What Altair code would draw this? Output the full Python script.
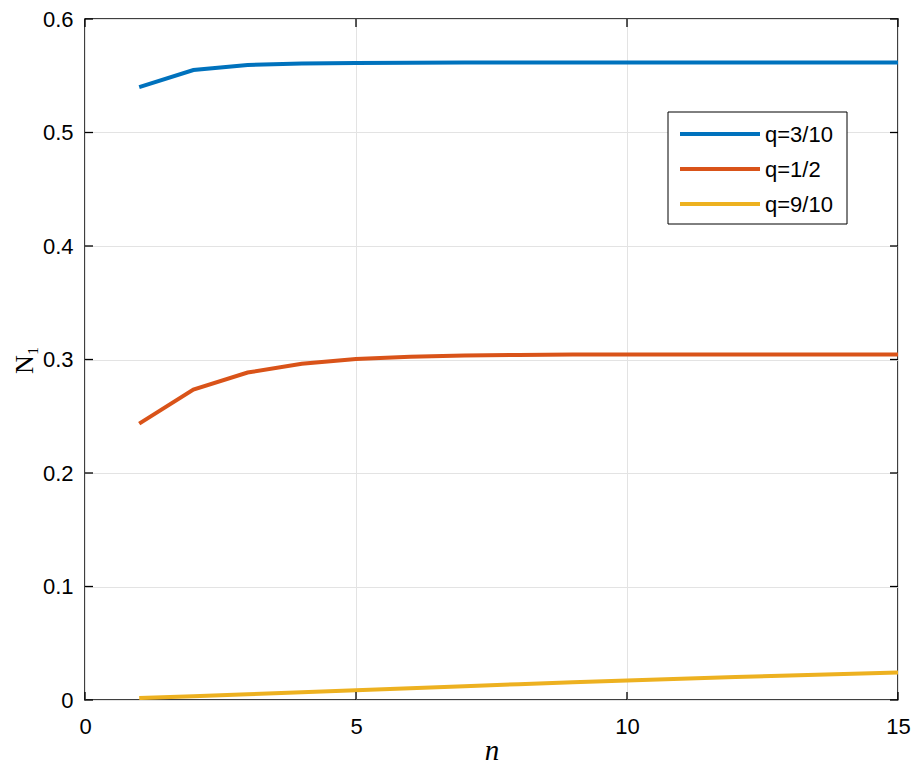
import altair as alt
import pandas as pd

n_vals = list(range(1, 16))
q3_10 = [0.540, 0.555, 0.5595, 0.5608, 0.5613, 0.5615, 0.5616, 0.5617, 0.5617, 0.5617, 0.5617, 0.5617, 0.5617, 0.5617, 0.5617]
q1_2 = [0.2435, 0.2735, 0.2885, 0.2962, 0.3005, 0.3025, 0.3035, 0.3040, 0.3043, 0.3044, 0.3044, 0.3044, 0.3044, 0.3044, 0.3044]
q9_10 = [0.0017, 0.0033, 0.0050, 0.0068, 0.0086, 0.0104, 0.0122, 0.0139, 0.0156, 0.0172, 0.0187, 0.0202, 0.0216, 0.0230, 0.0243]
series_names = ["q=3/10", "q=1/2", "q=9/10"]
series_colors = ["#0072BD", "#D95319", "#EDB120"]
x_ticks = [0, 5, 10, 15]
y_ticks = [0, 0.1, 0.2, 0.3, 0.4, 0.5, 0.6]

rows = []
for name, vals in zip(series_names, [q3_10, q1_2, q9_10]):
    for n, v in zip(n_vals, vals):
        rows.append({"n": n, "N1": v, "q": name})
df = pd.DataFrame(rows)

W, H = 813, 681
TL = 8

xsc = alt.Scale(domain=[0, 15], nice=False, zero=False)
ysc = alt.Scale(domain=[0, 0.6], nice=False, zero=False)

xaxis = alt.Axis(values=x_ticks, title="n", grid=True, ticks=False, domain=False,
                 labelFont="Liberation Sans", labelFontSize=22, labelColor="#000000",
                 labelPadding=16, labelFlush=False,
                 titleFont="Liberation Serif", titleFontStyle="italic", titleFontWeight="normal",
                 titleFontSize=29, titleColor="#000000", titleBaseline="alphabetic", titleY=59)
yaxis = alt.Axis(values=y_ticks, title="N₁", grid=True, ticks=False, domain=False,
                 format=".1~f", labelFont="Liberation Sans", labelFontSize=22, labelColor="#000000",
                 labelPadding=12, labelFlush=False,
                 titleFont="Liberation Serif", titleFontWeight="normal", titleFontSize=26,
                 titleColor="#000000", titleBaseline="alphabetic", titleX=-53)

lines = alt.Chart(df).mark_line(strokeWidth=4, strokeCap="butt", clip=True).encode(
    x=alt.X("n:Q", scale=xsc, axis=xaxis),
    y=alt.Y("N1:Q", scale=ysc, axis=yaxis),
    color=alt.Color("q:N", scale=alt.Scale(domain=series_names, range=series_colors),
                    sort=series_names, legend=None),
    detail="q:N",
)

xt = pd.DataFrame({"v": x_ticks})
yt = pd.DataFrame({"v": y_ticks})
tick_color = "#000000"
xb = alt.Chart(xt).mark_rule(color=tick_color, strokeWidth=1.3).encode(
    x=alt.X("v:Q", scale=xsc), y=alt.value(H), y2=alt.value(H - TL))
xtop = alt.Chart(xt).mark_rule(color=tick_color, strokeWidth=1.3).encode(
    x=alt.X("v:Q", scale=xsc), y=alt.value(0), y2=alt.value(TL))
yl = alt.Chart(yt).mark_rule(color=tick_color, strokeWidth=1.3).encode(
    y=alt.Y("v:Q", scale=ysc), x=alt.value(0), x2=alt.value(TL))
yr = alt.Chart(yt).mark_rule(color=tick_color, strokeWidth=1.3).encode(
    y=alt.Y("v:Q", scale=ysc), x=alt.value(W - TL), x2=alt.value(W))

# manual legend (guide) in pixel space, top-right inside the plot
box_w, box_h = 179, 112
bx0 = W - 51 - box_w
by0 = 93
row_gap = 35
one = pd.DataFrame({"a": [0]})
legend_layers = [
    alt.Chart(one).mark_rect(fill="#ffffff", stroke="#000000", strokeWidth=1).encode(
        x=alt.value(bx0), x2=alt.value(bx0 + box_w), y=alt.value(by0), y2=alt.value(by0 + box_h))
]
for i, (name, col) in enumerate(zip(series_names, series_colors)):
    ry = by0 + 22 + row_gap * i
    item = pd.DataFrame({"label": [name]})
    legend_layers.append(
        alt.Chart(item).mark_rule(color=col, strokeWidth=4, strokeCap="butt").encode(
            x=alt.value(bx0 + 12), x2=alt.value(bx0 + 92), y=alt.value(ry)))
    legend_layers.append(
        alt.Chart(item).mark_text(align="left", baseline="middle", font="Liberation Sans",
                                  fontSize=22, color="#000000").encode(
            x=alt.value(bx0 + 97), y=alt.value(ry + 1), text="label:N"))

chart = alt.layer(lines, xb, xtop, yl, yr, *legend_layers).properties(
    width=W, height=H,
    autosize=alt.AutoSizeParams(type="none"),
    padding={"left": 77, "top": 11, "right": 13, "bottom": 68},
    background="#ffffff",
).configure_view(stroke="#000000", strokeWidth=1.5).configure_axis(
    gridColor="#e3e3e3", gridWidth=1, gridOpacity=1
)

chart.save("out.html", embed_options={"renderer": "svg", "actions": False})
